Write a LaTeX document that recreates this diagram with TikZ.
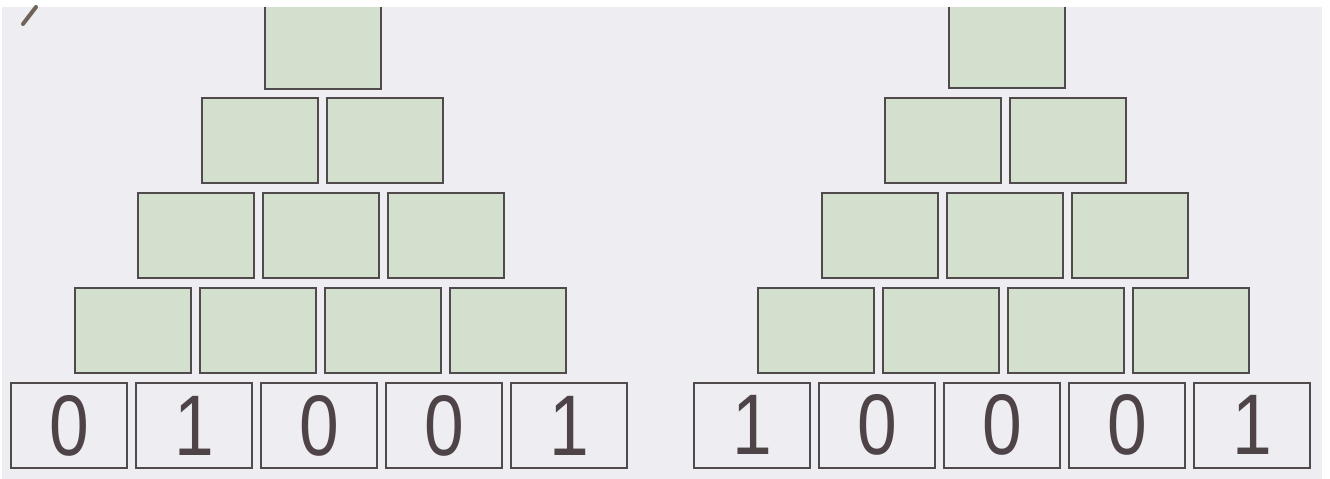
\documentclass[tikz,border=0pt]{standalone}
\usepackage{fontspec}
\setmainfont{Liberation Sans}
\newfontfamily\digitfont[FakeStretch=0.83]{Liberation Sans}
\definecolor{bgpaper}{RGB}{237,237,242}
\definecolor{boxgreen}{RGB}{212,224,206}
\definecolor{edgegray}{RGB}{80,74,77}
\definecolor{digitcol}{RGB}{78,68,72}
\definecolor{pencil}{RGB}{110,100,90}
\tikzset{
  brick/.style={draw=edgegray, line width=2pt, fill=boxgreen, minimum width=116pt, minimum height=85pt, inner sep=0pt, outer sep=0pt},
  digitbox/.style={draw=edgegray, line width=2pt, fill=bgpaper, minimum width=116pt, minimum height=85pt, inner sep=0pt, outer sep=0pt, font=\digitfont\fontsize{86}{86}\selectfont, text=digitcol}
}
\begin{document}
\begin{tikzpicture}[x=1pt,y=-1pt]
\useasboundingbox (0,0) rectangle (1330,479);
\fill[white] (0,0) rectangle (1330,479);
\fill[bgpaper] (2,7) rectangle (1322,479);
% left pyramid
\foreach \d [count=\i from 0] in {0,1,0,0,1}{
  \node[digitbox] (La\i) at ({69+125*\i},425.5) {\d};
}
\foreach \i in {0,...,3}{ \node[brick] (Lb\i) at ({133+125*\i},330.5) {}; }
\foreach \i in {0,...,2}{ \node[brick] (Lc\i) at ({196+125*\i},235.5) {}; }
\foreach \i in {0,...,1}{ \node[brick] (Ld\i) at ({259.5+125*\i},140.5) {}; }
\node[brick] (Le0) at (323,46.5) {};
% right pyramid
\foreach \d [count=\i from 0] in {1,0,0,0,1}{
  \node[digitbox] (Ra\i) at ({752+125*\i},425) {\d};
}
\foreach \i in {0,...,3}{ \node[brick] (Rb\i) at ({816+125*\i},330) {}; }
\foreach \i in {0,...,2}{ \node[brick] (Rc\i) at ({880+125*\i},235) {}; }
\foreach \i in {0,...,1}{ \node[brick] (Rd\i) at ({943+125*\i},140) {}; }
\node[brick] (Re0) at (1006.5,45.5) {};
% scan border on top
\fill[white] (0,0) rectangle (1330,6.5);
% pencil mark
\draw[line width=4pt, color=pencil, line cap=round] (23,24) -- (36,7);
\end{tikzpicture}
\end{document}
